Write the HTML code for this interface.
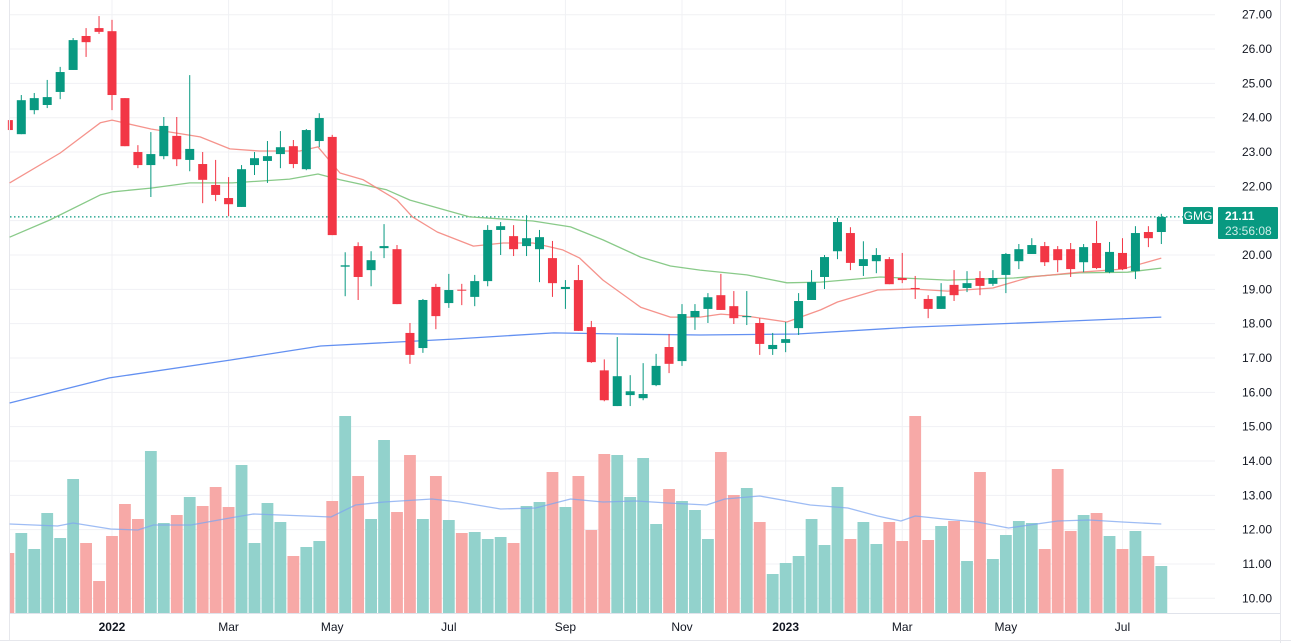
<!DOCTYPE html>
<html><head><meta charset="utf-8"><style>
html,body{margin:0;padding:0;background:#fff;}
svg{display:block;font-family:"Liberation Sans",sans-serif;}
</style></head><body>
<svg id="chart" width="1291" height="643" viewBox="0 0 1291 643" xmlns="http://www.w3.org/2000/svg"></svg>
<script>
// ---- data ----
const opens  = [23.93,23.52,24.22,24.37,24.75,25.39,26.38,26.61,26.52,24.57,23.00,22.62,22.88,23.47,22.77,22.65,22.04,21.66,21.40,22.62,22.74,22.94,23.17,22.50,23.32,23.44,19.66,20.26,19.56,20.20,20.17,17.73,17.29,19.07,18.60,18.99,18.78,19.24,20.73,20.55,20.26,20.17,19.91,19.01,19.27,17.90,16.64,15.60,15.92,15.83,16.21,17.32,16.91,18.19,18.43,18.83,18.51,18.19,18.02,17.26,17.44,17.87,18.69,19.36,20.11,20.64,19.68,19.82,19.88,19.33,19.04,18.72,18.43,19.13,19.04,19.33,19.16,19.42,19.82,20.03,20.26,20.17,20.17,19.79,20.35,19.50,20.06,19.53,20.67,20.67];
const closes = [23.64,24.51,24.57,24.60,25.33,26.26,26.20,26.50,24.66,23.17,22.62,22.94,23.76,22.79,23.09,22.19,21.75,21.48,22.50,22.82,22.88,23.14,22.65,23.64,23.99,20.58,19.70,19.36,19.85,20.26,18.57,17.09,18.69,18.22,18.98,18.97,19.24,20.73,20.84,20.17,20.49,20.52,19.18,19.07,17.79,16.88,15.77,16.47,16.03,15.95,16.77,16.83,18.28,18.37,18.77,18.40,18.16,18.22,17.41,17.38,17.55,18.66,19.21,19.94,20.96,19.77,19.88,20.00,19.15,19.27,19.01,18.43,18.80,18.83,19.18,19.10,19.33,20.03,20.17,20.29,19.79,19.85,19.59,20.23,19.62,20.09,19.59,20.64,20.49,21.11];
const highs  = [23.93,24.66,24.72,25.10,25.48,26.32,26.61,26.96,26.85,24.57,23.20,23.58,24.02,24.02,25.24,23.00,22.77,22.27,22.62,23.00,23.32,23.61,23.35,23.67,24.13,23.50,20.08,20.37,20.11,20.90,20.29,18.02,18.72,19.16,19.45,19.16,19.42,20.87,20.96,20.87,21.16,20.73,20.41,19.27,19.71,18.08,16.96,17.61,16.50,16.85,17.12,17.70,18.57,18.57,18.89,19.45,18.95,18.95,18.16,17.73,18.05,18.89,19.56,20.00,21.08,20.81,20.40,20.20,19.94,20.06,19.39,18.83,19.18,19.56,19.53,19.53,19.56,20.06,20.32,20.49,20.38,20.26,20.35,20.32,20.99,20.38,20.49,20.84,20.84,21.20];
const lows   = [23.64,23.52,24.10,24.28,24.54,25.39,25.77,26.44,24.22,23.17,22.53,21.69,22.79,22.59,22.44,21.51,21.57,21.13,21.40,22.33,22.10,22.53,22.53,22.47,23.14,20.58,18.80,18.69,19.09,19.91,18.57,16.83,17.15,17.84,18.46,18.54,18.51,19.09,20.00,19.97,19.97,19.21,18.78,18.43,17.79,16.86,15.74,15.60,15.60,15.77,16.18,16.56,16.77,17.82,18.02,18.40,17.99,17.96,17.09,17.09,17.17,17.67,18.69,19.01,19.88,19.56,19.39,19.47,19.15,19.18,18.72,18.16,18.43,18.66,18.92,18.83,19.10,18.89,19.59,20.03,19.68,19.50,19.36,19.50,19.59,19.47,19.56,19.30,20.23,20.32];
const volumes = [60,80,64,100,75,134,70,32,77,109,94,162,90,98,116,107,126,106,148,70,110,91,57,66,72,112,197,137,94,173,101,158,94,137,93,80,81,74,76,70,107,111,141,106,137,83,159,158,116,155,89,124,112,103,74,161,118,125,91,39,50,57,94,68,126,74,91,69,91,72,197,73,87,92,52,141,54,78,92,90,64,144,82,98,100,77,64,82,57,47];
// moving averages sampled at (week index, value)
const ma20Idx = [0.1,4,7.1,8,11,14.8,17.1,19.4,22.5,23.9,25.6,27.4,30,31.2,33.1,35.9,38.2,40.5,42.8,44.1,45.9,48.8,51.1,53.4,55,57,60.1,62.7,64,67.1,69.8,72.5,76,78.9,82.7,86,89];
const ma20Val = [22.10,22.97,23.85,23.93,23.67,23.44,23.09,23.03,23.03,23.15,22.39,22.19,21.60,21.11,20.67,20.26,20.35,20.35,20.15,19.91,19.27,18.48,18.19,18.19,18.28,18.22,18.05,18.40,18.63,18.98,19.01,18.95,19.04,19.36,19.50,19.59,19.91];
const ma50Idx = [0.1,3.2,7.1,8.1,11,14,17.3,21.7,23.9,25.6,29.2,31,35.6,40.5,43.4,45.9,48.8,51.1,53.4,57,60.1,62.7,67.3,72.5,77.6,82.7,86.4,89];
const ma50Val = [20.52,21.02,21.75,21.84,21.95,22.10,22.10,22.21,22.36,22.19,21.90,21.60,21.11,20.99,20.82,20.44,19.94,19.68,19.56,19.42,19.19,19.21,19.36,19.27,19.33,19.48,19.50,19.62];
const ma200Idx = [0.1,7.8,17.1,24.1,34.3,42.1,47.2,53.4,60.9,69.8,80.2,89];
const ma200Val = [15.69,16.42,16.94,17.35,17.55,17.73,17.70,17.67,17.70,17.90,18.05,18.19];
const volMaIdx = [0.1,3.8,5,7.9,10,11.2,14.1,17.1,18.9,23,24.9,26.8,29,32.7,34.8,38,40.7,43.4,45.9,48.5,50.9,53.9,55.3,58,61.9,64.8,67.1,68.9,70,72.2,74.8,77.2,81,83.4,86,89];
const volMaVal = [89,87,90,84,83,88,88,95,99,97,96,108,111,114,111,104,105,114,111,112,110,108,114,117,108,105,97,92,97,94,91,85,92,93,91,89];
const priceTicks = [27,26,25,24,23,22,21,20,19,18,17,16,15,14,13,12,11,10];
const timeLabels = ["2022","Mar","May","Jul","Sep","Nov","2023","Mar","May","Jul"];
const timeIdx = [8,17,25,34,43,52,60,69,77,86];
const lastPrice = 21.11;

// ---- axes ----
const X = i => 8.35 + 12.955 * i;
const Y = p => 14.7 + (27 - p) * 34.33;
const VB = 613;
const V = v => VB - v;

const svg = document.getElementById('chart');
const NS = 'http://www.w3.org/2000/svg';
function mk(tag, attrs, parent) {
  const e = document.createElementNS(NS, tag);
  for (const k in attrs) e.setAttribute(k, attrs[k]);
  (parent || svg).appendChild(e);
  return e;
}

// grid
const grid = mk('g', {});


priceTicks.forEach(p => {
  const l = mk('line', {x1: 10, x2: 1215, y1: Y(p), y2: Y(p), stroke: '#f0f1f4', 'stroke-width': 1}, grid);
  
  
});
timeIdx.forEach(i => {
  const l = mk('line', {x1: X(i), x2: X(i), y1: 0, y2: 613, stroke: '#f0f1f4', 'stroke-width': 1}, grid);
  
  
});

// frame lines
const fl = mk('line', {x1: 9.5, x2: 9.5, y1: 0, y2: 640, stroke: '#e6e7ec', 'stroke-width': 1});


const fb = mk('line', {x1: 0, x2: 1291, y1: 640.5, y2: 640.5, stroke: '#e6e7ec', 'stroke-width': 1});


const fr = mk('line', {x1: 1280.5, x2: 1280.5, y1: 0, y2: 643, stroke: '#e6e7ec', 'stroke-width': 1});


const tb = mk('line', {x1: 10, x2: 1280, y1: 613.5, y2: 613.5, stroke: '#e0e3eb', 'stroke-width': 1});



// volume bars
const vg = mk('g', {});


volumes.forEach((v, i) => {
  const up = closes[i] >= opens[i];
  let x0 = X(i) - 5.9, w = 11.8;
  if (x0 < 10) { w -= (10 - x0); x0 = 10; }
  const r = mk('rect', {x: x0, y: V(v), width: w, height: v, fill: up ? '#92d2cc' : '#f7a9a7'}, vg);
  
  
});

function line(idx, vals, fy, color, name, width, op) {
  const d = idx.map((t, k) => (k ? 'L' : 'M') + X(t).toFixed(1) + ' ' + fy(vals[k]).toFixed(1)).join(' ');
  const p = mk('path', {d: d, fill: 'none', stroke: color, 'stroke-width': width, 'stroke-opacity': op, 'stroke-linejoin': 'round'});
  
  
}
line(volMaIdx, volMaVal, V, '#7ea6f0', 'volume-ma-line', 1.3, 0.75);

// last price dotted line
const dl = mk('line', {x1: 10, x2: 1183, y1: Y(lastPrice), y2: Y(lastPrice), stroke: '#089981', 'stroke-width': 1.3, 'stroke-dasharray': '1.5 2.5'});



line(ma200Idx, ma200Val, Y, '#5b8af0', 'ma200-line', 1.3, 0.95);
line(ma50Idx, ma50Val, Y, '#7cc47c', 'ma50-line', 1.3, 0.9);
line(ma20Idx, ma20Val, Y, '#f4877f', 'ma20-line', 1.3, 0.9);

// candles
const cg = mk('g', {});


opens.forEach((o, i) => {
  const c = closes[i], up = c >= o, col = up ? '#089981' : '#f23645';
  const x = X(i);
  const w = mk('line', {x1: x, x2: x, y1: Y(highs[i]), y2: Y(lows[i]), stroke: col, 'stroke-width': 1}, cg);
  
  
  const top = Y(Math.max(o, c)), bot = Y(Math.min(o, c));
  let x0 = x - 4.5, bw = 9;
  if (x0 < 10) { bw -= (10 - x0); x0 = 10; }
  const b = mk('rect', {x: x0, y: top, width: bw, height: Math.max(1, bot - top), fill: col}, cg);
  
  
});

// price axis labels
const pa = mk('g', {});


priceTicks.forEach(p => {
  const t = mk('text', {x: 1257, y: Y(p) + 4, 'text-anchor': 'middle', 'font-size': 12, fill: '#131722'}, pa);
  t.textContent = p.toFixed(2);
  
  
});

// time axis labels
const ta = mk('g', {});


timeLabels.forEach((s, k) => {
  const yr = /^\d{4}$/.test(s);
  const t = mk('text', {x: X(timeIdx[k]), y: 631, 'text-anchor': 'middle', 'font-size': 12, fill: '#131722', 'font-weight': yr ? 'bold' : 'normal'}, ta);
  t.textContent = s;
  
  
});

// symbol & price badge
const sb = mk('rect', {x: 1183, y: 207, width: 30, height: 17, fill: '#089981', rx: 1});


const st = mk('text', {x: 1198, y: 220, 'text-anchor': 'middle', 'font-size': 12, fill: '#fff'});
st.textContent = 'GMG';


const pb = mk('rect', {x: 1218, y: 207, width: 60, height: 32, fill: '#089981', rx: 1});


const pt = mk('text', {x: 1225, y: 220, 'font-size': 12, fill: '#fff', 'font-weight': 'bold'});
pt.textContent = lastPrice.toFixed(2);


const ct = mk('text', {x: 1225, y: 235, 'font-size': 12, fill: '#cfeee8'});
ct.textContent = '23:56:08';


</script>
</body></html>
